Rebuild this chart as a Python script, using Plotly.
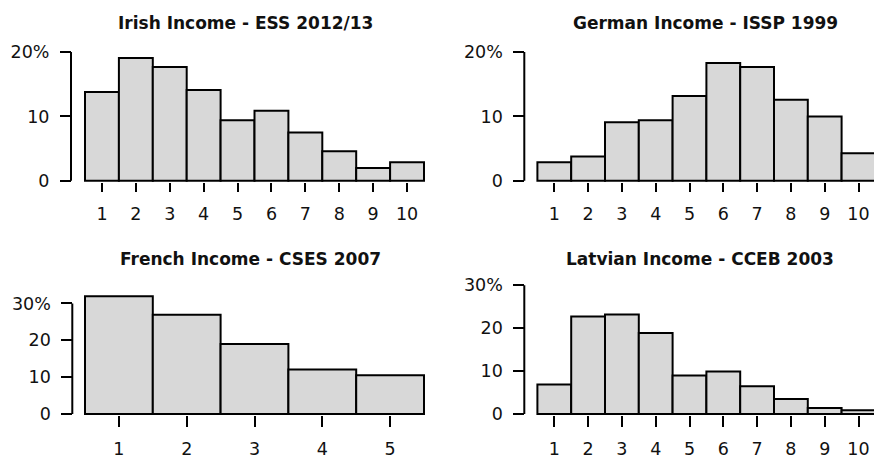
import plotly.graph_objects as go

W, H = 874, 461  # reference canvas, used only to convert pixel positions to paper fractions

# ---- data (percent of respondents per income category) ----
irish_cats = list(range(1, 11))
irish_vals = [13.8, 19.1, 17.7, 14.1, 9.4, 10.9, 7.5, 4.6, 2.0, 2.9]

german_cats = list(range(1, 11))
german_vals = [2.9, 3.8, 9.1, 9.4, 13.2, 18.3, 17.7, 12.6, 10.0, 4.3]

french_cats = list(range(1, 6))
french_vals = [31.9, 26.9, 19.0, 12.1, 10.5]

latvian_cats = list(range(1, 11))
latvian_vals = [6.9, 22.7, 23.2, 18.9, 9.0, 9.9, 6.5, 3.5, 1.4, 0.9]

top_yticks = [0, 10, 20]
top_yticklabels = ["0", "10", "20%"]
bottom_yticks = [0, 10, 20, 30]
bottom_yticklabels = ["0", "10", "20", "30%"]

titles = ["Irish Income - ESS 2012/13", "German Income - ISSP 1999",
          "French Income - CSES 2007", "Latvian Income - CCEB 2003"]

# ---- layout geometry (pixels) ----
panels = [
    dict(cats=irish_cats, vals=irish_vals, yt=top_yticks, ytl=top_yticklabels, title=titles[0],
         xa=85, xb=424, dx=(78, 431), y0=182, ytp=51, dy=(186, 40), axx=71, xtick=183.5, xlen=9,
         tx=245, ty=21),
    dict(cats=german_cats, vals=german_vals, yt=top_yticks, ytl=top_yticklabels, title=titles[1],
         xa=537.4, xb=875.4, dx=(530, 874), y0=182, ytp=51, dy=(186, 40), axx=524.3, xtick=183.5, xlen=9,
         tx=705, ty=21),
    dict(cats=french_cats, vals=french_vals, yt=bottom_yticks, ytl=bottom_yticklabels, title=titles[2],
         xa=85, xb=424, dx=(78, 431), y0=419.3, ytp=306.7, dy=(423, 290), axx=72.3, xtick=420.5, xlen=11,
         tx=250, ty=262),
    dict(cats=latvian_cats, vals=latvian_vals, yt=bottom_yticks, ytl=bottom_yticklabels, title=titles[3],
         xa=537.4, xb=875.4, dx=(530, 874), y0=419.3, ytp=288.3, dy=(423, 280), axx=524.3, xtick=420.5, xlen=11,
         tx=700, ty=262),
]


def fx(p):
    return p / W


def fy(p):
    return 1 - p / H


tickfont = dict(family="DejaVu Sans", size=17.5, color="#111111")
fig = go.Figure()
layout = dict(autosize=True, margin=dict(l=0, r=0, t=0, b=0),
              paper_bgcolor="white", plot_bgcolor="white", showlegend=False,
              shapes=[], annotations=[])

for i, p in enumerate(panels, start=1):
    sfx = "" if i == 1 else str(i)
    cats = p["cats"]
    # x scale
    v_lo, v_hi = cats[0] - 0.5, cats[-1] + 0.5
    sx = (p["xb"] - p["xa"]) / (v_hi - v_lo)
    xr = [v_lo - (p["xa"] - p["dx"][0]) / sx, v_lo + (p["dx"][1] - p["xa"]) / sx]
    # y scale
    ytop = p["yt"][-1]
    sy = (p["y0"] - p["ytp"]) / ytop
    yr = [-(p["dy"][0] - p["y0"]) / sy, (p["y0"] - p["dy"][1]) / sy]

    fig.add_trace(go.Bar(x=cats, y=p["vals"], width=1,
                         marker=dict(color="#D8D8D8", line=dict(color="black", width=2)),
                         xaxis="x" + sfx, yaxis="y" + sfx, hoverinfo="skip"))

    layout["xaxis" + sfx] = dict(domain=[fx(p["dx"][0]), fx(p["dx"][1])], range=xr,
                                 anchor="free", position=fy(p["xtick"]),
                                 showline=False, showgrid=False, zeroline=False,
                                 ticks="outside", ticklen=p["xlen"], tickwidth=2, tickcolor="black",
                                 tickvals=cats, ticktext=[str(c) for c in cats],
                                 tickfont=tickfont, ticklabelstandoff=7,
                                 ticklabeloverflow="allow")
    layout["yaxis" + sfx] = dict(domain=[fy(p["dy"][0]), fy(p["dy"][1])], range=yr,
                                 anchor="free", position=fx(p["axx"]), side="left",
                                 showline=False, showgrid=False, zeroline=False,
                                 ticks="outside", ticklen=11, tickwidth=2, tickcolor="black",
                                 tickvals=p["yt"], ticktext=p["ytl"],
                                 tickfont=tickfont, ticklabelstandoff=7)
    layout["shapes"].append(dict(type="line", xref="paper", yref="y" + sfx,
                                 x0=fx(p["axx"]), x1=fx(p["axx"]), y0=0, y1=ytop,
                                 line=dict(color="black", width=2)))
    layout["annotations"].append(dict(text="<b>%s</b>" % p["title"], xref="paper", yref="paper",
                                      x=fx(p["tx"]), y=fy(p["ty"]), xanchor="center", yanchor="middle",
                                      showarrow=False,
                                      font=dict(family="DejaVu Sans", size=17, color="#111111")))

fig.update_layout(**layout)
fig.write_html("out.html", config={"displayModeBar": False},
               default_width="100vw", default_height="100vh",
               post_script=("var gd=document.getElementById('{plot_id}');"
                            "document.documentElement.style.overflow='hidden';"
                            "document.body.style.margin='0';document.body.style.padding='0';"
                            "gd.style.position='fixed';gd.style.left='0';gd.style.top='0';"))
